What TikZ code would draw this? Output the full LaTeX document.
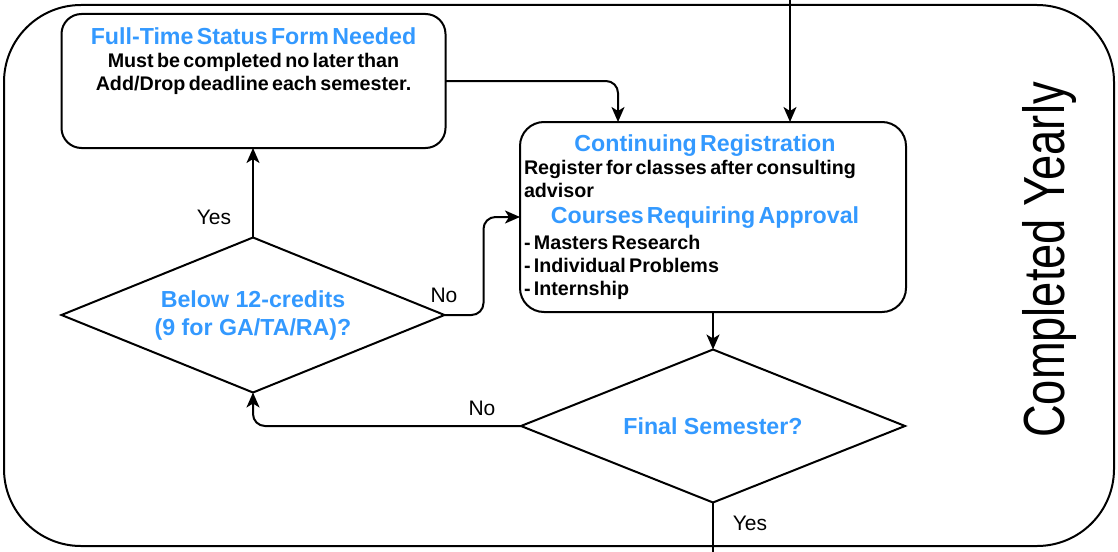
\documentclass[tikz,border=0pt]{standalone}
\usepackage{fontspec}
\setmainfont{Liberation Sans}
\newfontfamily\yrfamily[FakeStretch=0.78]{Liberation Sans}
\usetikzlibrary{arrows.meta,shapes.geometric}
\definecolor{tblue}{HTML}{3399FF}
\newcommand\ttlfont{\fontsize{23.2}{26}\selectfont\bfseries}
\newcommand\bodyfont{\fontsize{19.7}{23}\selectfont\bfseries}
\newcommand\lblfont{\fontsize{21}{25}\selectfont}
\begin{document}
\begin{tikzpicture}[x=1pt,y=-1pt,
  every node/.style={outer sep=0pt},
  box/.style={draw, line width=2pt, rectangle, inner sep=0pt},
  dia/.style={draw, line width=2pt, diamond, inner sep=0pt, align=center, font=\ttlfont, text=tblue},
  conn/.style={line width=2pt},
  arr/.style={conn, -{Stealth[length=15pt,width=13pt,inset=4pt]}},
  lbl/.style={anchor=base, inner sep=0pt, font=\lblfont},
]
\useasboundingbox (0,0) rectangle (1118,551);

% container
\node[box, rounded corners=77pt, minimum width=1110pt, minimum height=541pt] (frame) at (559,275.5) {};
\node[rotate=90, anchor=base, inner sep=0pt, font={\yrfamily\fontsize{58}{62}\selectfont}] (yearly) at (1064,260) {Completed Yearly};

% full-time box
\node[box, rounded corners=20pt, minimum width=384pt, minimum height=134pt] (ft) at (253.5,81) {};
\node[anchor=north, inner sep=0pt, text width=380pt, align=center] (ftt) at (253.5,28)
  {{\ttlfont\color{tblue}\rule{0pt}{17pt}Full-Time Status Form Needed\par}
   {\bodyfont Must be completed no later than\\Add/Drop deadline each semester.\par}};

% continuing registration box
\node[box, rounded corners=24pt, minimum width=386pt, minimum height=190pt] (cr) at (713,217) {};
\node[anchor=north west, inner sep=0pt, text width=362pt] (crt) at (524,134)
  {{\centering\ttlfont\color{tblue}\rule{0pt}{17pt}Continuing Registration\par}
   {\raggedright\bodyfont Register for classes after consulting advisor\par}
   {\centering\ttlfont\color{tblue}Courses Requiring Approval\par}
   \vspace*{3pt}
   {\raggedright\bodyfont - Masters Research\\- Individual Problems\\- Internship\par}};

% decisions
\node[dia, minimum width=383pt, minimum height=155pt, shape aspect=2.47] (d1) at (253,315)
  {Below 12-credits\\[2pt](9 for GA/TA/RA)?};
\node[dia, minimum width=384pt, minimum height=153pt, shape aspect=2.5] (d2) at (713,426)
  {Final Semester?};

% connectors
\coordinate (entry) at (790,-1);
\coordinate (exit) at (713,552);
\draw[arr, rounded corners=12pt] (ft.east) -| ([xshift=98pt]cr.north west);
\draw[arr] (entry) -- (entry |- cr.north);
\draw[arr] (d1.north) -- (d1.north |- ft.south);
\draw[arr, rounded corners=12pt] (d1.east) -- ([xshift=39pt]d1.east) |- (cr.west);
\draw[arr] (cr.south) -- (d2.north);
\draw[arr, rounded corners=12pt] (d2.west) -| (d1.south);
\draw[conn] (d2.south) -- (exit);

% labels
\node[lbl] (yes1) at (214,224) {Yes};
\node[lbl] (no1) at (444,302.7) {No};
\node[lbl] (no2) at (482,415) {No};
\node[lbl] (yes2) at (750,530) {Yes};
\end{tikzpicture}
\end{document}
